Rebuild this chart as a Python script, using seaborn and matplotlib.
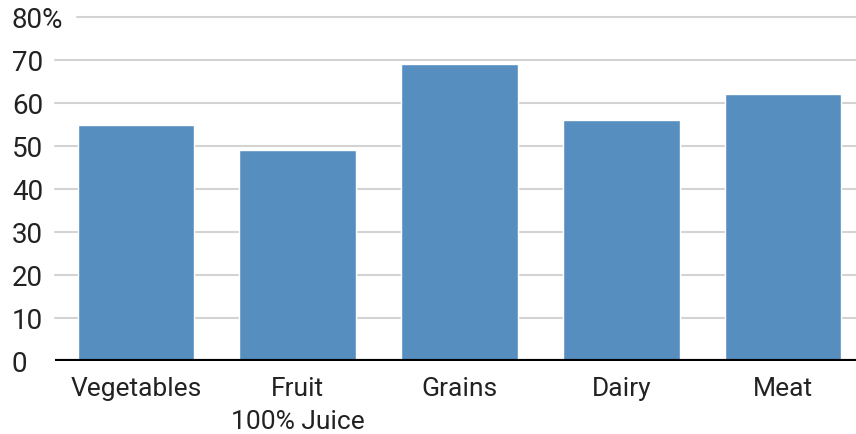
import matplotlib
matplotlib.use("Agg")
import matplotlib.pyplot as plt
import seaborn as sns
import pandas as pd

categories = ["Vegetables", "Fruit\n100% Juice", "Grains", "Dairy", "Meat"]
shares = [55, 49, 69, 56, 62]
yticks = [0, 10, 20, 30, 40, 50, 60, 70, 80]
ytick_labels = ["0", "10", "20", "30", "40", "50", "60", "70", "80%"]

sns.set_style("white")
plt.rcParams["font.family"] = ["Roboto", "DejaVu Sans"]

df = pd.DataFrame({"category": categories, "share": shares})

fig = plt.figure(figsize=(8.56, 4.35), dpi=100)
ax = fig.add_axes([55 / 856, 73 / 435, 1 - 55 / 856, 344 / 435])

sns.barplot(data=df, x="category", y="share", color="#568fbf", saturation=1,
            width=0.72, ax=ax, zorder=3)

ax.set_xlim(-0.5, 4.45)
ax.set_ylim(0, 80)
for v in yticks[1:]:
    start = 0.027 if v == 80 else 0.0
    ax.axhline(v, xmin=start, xmax=1, color="#d3d3d3", lw=1.5, zorder=1, clip_on=False)
ax.axhline(0, color="black", lw=3, zorder=4)

ax.set_yticks(yticks)
ax.set_yticklabels(ytick_labels, fontsize=20, color="#222222", ha="left")
ax.tick_params(axis="y", length=0, pad=31)
ax.tick_params(axis="x", length=0, pad=11, labelsize=19, labelcolor="#222222")
for lbl in ax.get_xticklabels():
    lbl.set_linespacing(1.45)

ax.set_xlabel("")
ax.set_ylabel("")
sns.despine(ax=ax, left=True, bottom=True)

fig.savefig("out.png", dpi=100)
